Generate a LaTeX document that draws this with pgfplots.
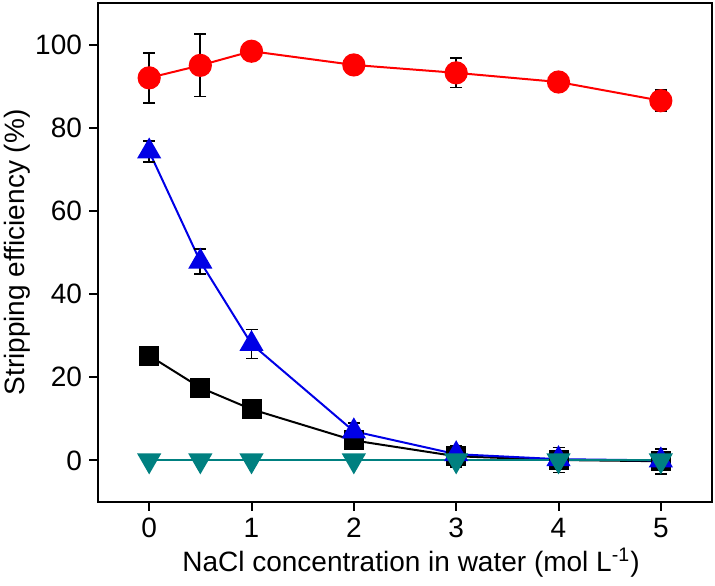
\documentclass[border=0pt]{standalone}
\usepackage{fontspec}
\setmainfont{Liberation Sans}
\usepackage{pgfplots}
\pgfplotsset{compat=1.18}
\definecolor{ptred}{RGB}{255,0,0}
\definecolor{ptblue}{RGB}{0,0,230}
\definecolor{ptteal}{RGB}{0,128,128}

\begin{document}
\begin{tikzpicture}
\begin{axis}[
  scale only axis, width=307pt, height=249.5pt,
  xmin=-0.5, xmax=5.5, ymin=-10, ymax=110,
  xtick={0,1,2,3,4,5}, ytick={0,20,40,60,80,100},
  tick align=outside, tick pos=left, major tick length=4.5pt,
  axis line style={line width=1pt},
  every tick/.style={black, line width=1pt},
  /pgf/number format/assume math mode=true,
  tick label style={font=\fontsize{14}{16}\selectfont},
  label style={font=\fontsize{14}{16}\selectfont},
  xlabel={NaCl concentration in water (mol L\textsuperscript{-1})},
  ylabel={Stripping efficiency (\%)},
  xlabel style={xshift=3pt, yshift=2pt},
  ylabel style={yshift=-4.5pt},
  every axis plot/.append style={line width=1pt},
  eb/.style={draw=none, mark=none,
    error bars/.cd, y dir=both, y explicit,
    error bar style={draw=black, solid, line width=0.9pt},
    error mark options={rotate=90, mark size=3pt, draw=black, line width=0.9pt}},
]
% black squares
\addplot[black, mark=square*, mark size=4.5pt] coordinates {
  (0,25.2) (0.5,17.5) (1,12.3) (2,4.8) (3,1.0) (4,0.1) (5,-0.2)};
% blue up triangles
\addplot[ptblue, mark=triangle*, mark size=6pt] coordinates {
  (0,74.3) (0.5,47.8) (1,28.0) (2,7.0) (3,1.5) (4,0.3) (5,0.0)};
% teal down triangles
\addplot[ptteal, mark=triangle*, mark size=6pt, mark options={rotate=180}] coordinates {
  (0,0) (0.5,0) (1,0) (2,0) (3,0) (4,0) (5,0)};
% red circles
\addplot[ptred, mark=*, mark size=5.3pt] coordinates {
  (0,92.0) (0.5,95.0) (1,98.4) (2,95.1) (3,93.2) (4,91.0) (5,86.5)};
% error bars
\addplot[eb] coordinates {
  (0,92.0) +- (0,6) (0.5,95.0) +- (0,7.5) (1,98.4) +- (0,2) (2,95.1) +- (0,2)
  (3,93.2) +- (0,3.5) (4,91.0) +- (0,2) (5,86.5) +- (0,2.5)};
\addplot[eb] coordinates {
  (0,74.3) +- (0,2.5) (0.5,47.8) +- (0,3) (1,28.0) +- (0,3.5) (2,7.0) +- (0,2)
  (3,1.5) +- (0,1) (4,0.3) +- (0,1.5) (5,0.0) +- (0,2)};
\addplot[eb] coordinates {
  (0,25.2) +- (0,1) (0.5,17.5) +- (0,1) (1,12.3) +- (0,1) (2,4.8) +- (0,1)
  (3,1.0) +- (0,2.5) (4,0.1) +- (0,3) (5,-0.2) +- (0,3)};
\coordinate (bl) at (rel axis cs:0,0);
\coordinate (tr) at (rel axis cs:1,1);
\end{axis}
\pgfresetboundingbox
\path[use as bounding box] ([xshift=-49pt, yshift=-42pt]bl) rectangle ([xshift=1.5pt, yshift=1.5pt]tr);
\end{tikzpicture}
\end{document}
